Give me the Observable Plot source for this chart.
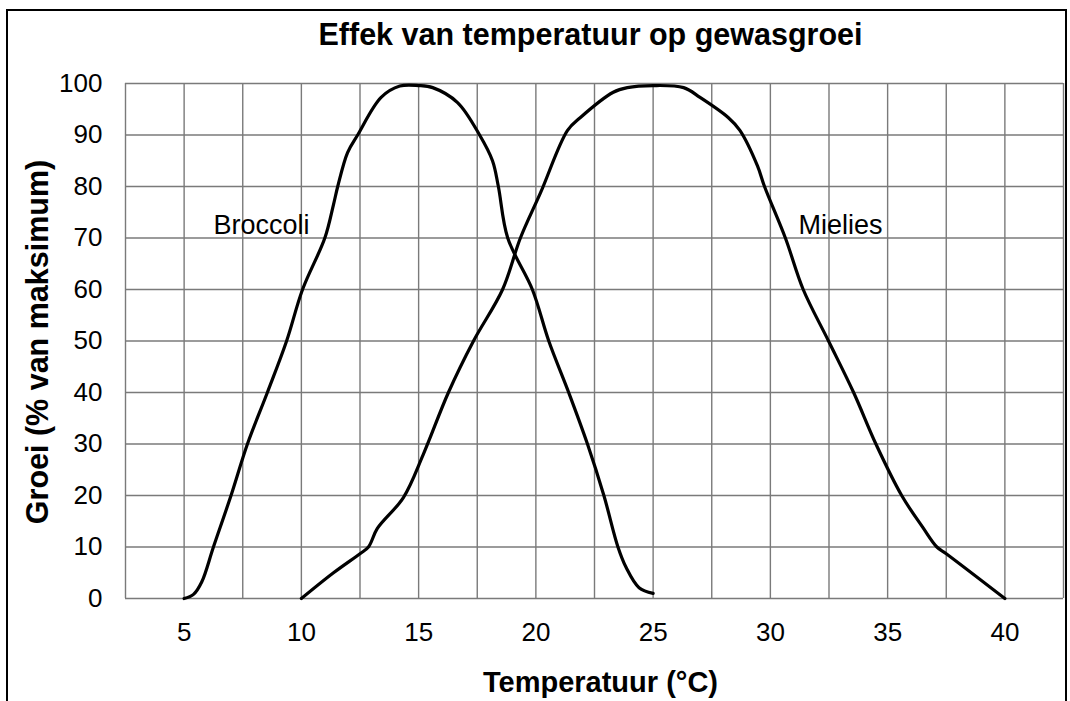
<!DOCTYPE html>
<html>
<head>
<meta charset="utf-8">
<script src="https://cdn.jsdelivr.net/npm/d3@7"></script>
<script src="https://cdn.jsdelivr.net/npm/@observablehq/plot@0.6"></script>
<style>
  html, body { margin: 0; padding: 0; background: #fff; }
  #wrap { position: relative; width: 1070px; height: 701px; overflow: hidden; }
  #border { position: absolute; left: 6px; top: 9px; width: 1061px; height: 710px; border: 2px solid #000; box-sizing: border-box; }
  #chart { position: absolute; left: 0; top: 0; }
</style>
</head>
<body>
<div id="wrap"><div id="border"></div><div id="chart"></div></div>
<script>
const chartTitle = "Effek van temperatuur op gewasgroei";
const xTitle = "Temperatuur (°C)";
const yTitle = "Groei (% van maksimum)";

const xTicks = [5, 10, 15, 20, 25, 30, 35, 40];
const xGrid = [2.5, 5, 7.5, 10, 12.5, 15, 17.5, 20, 22.5, 25, 27.5, 30, 32.5, 35, 37.5, 40, 42.5];
const yTicks = [0, 10, 20, 30, 40, 50, 60, 70, 80, 90, 100];

const broccoliTemp   = [5, 5.4, 5.75, 6.25, 7.0, 7.7, 8.55, 9.37, 10.05, 11.0, 11.37, 11.55, 11.97, 12.4, 13.4, 14.2, 15.0, 15.6, 16.66, 17.6, 18.15, 18.4, 18.8, 19.85, 20.55, 21.4, 22.2, 22.9, 23.5, 23.85, 24.4, 25];
const broccoliGrowth = [0, 0.8, 3.2, 10, 20, 30, 40, 50, 60, 70, 76.5, 80, 86.6, 90, 97.3, 99.5, 99.6, 99.2, 96.3, 90, 85, 80, 70, 60, 50, 40, 30, 20, 10, 6, 2.1, 1];

const mieliesTemp   = [10, 11.37, 12.5, 12.86, 13.24, 14.35, 15.2, 16.27, 17.34, 18.58, 19.34, 20.2, 21.35, 21.9, 23.3, 23.9, 25, 26.3, 27.0, 28.2, 28.7, 29.45, 29.75, 30.64, 31.4, 32.48, 33.55, 34.5, 35.6, 36.5, 37.1, 37.5, 40];
const mieliesGrowth = [0, 5, 8.7, 10, 13.6, 19.6, 28, 40, 50, 60, 70, 78.8, 90.9, 93.4, 98.3, 99.2, 99.6, 99.2, 97.3, 93.4, 90.9, 84, 80, 70, 60, 50, 40, 30, 20, 13.8, 10, 8.7, 0];

const labelNames = ["Broccoli", "Mielies"];
const labelTemp = [6.25, 31.2];
const labelGrowth = [72.5, 72.5];

const broccoli = broccoliTemp.map((t, i) => ({t, g: broccoliGrowth[i]}));
const mielies = mieliesTemp.map((t, i) => ({t, g: mieliesGrowth[i]}));
const labels = labelNames.map((name, i) => ({name, t: labelTemp[i], g: labelGrowth[i]}));

const font = "'Liberation Sans', Arial, Helvetica, sans-serif";
const gridColor = "#7a7a7a";

const chart = Plot.plot({
  width: 1070,
  height: 701,
  marginLeft: 125,
  marginRight: 7,
  marginTop: 83,
  marginBottom: 103,
  style: { fontFamily: font, fontSize: "26px", background: "transparent", color: "#000" },
  x: { domain: [2.5, 42.5] },
  y: { domain: [0, 100] },
  marks: [
    Plot.ruleX(xGrid, { stroke: gridColor, strokeWidth: 1.4 }),
    Plot.ruleY(yTicks, { stroke: gridColor, strokeWidth: 1.4 }),
    Plot.line(broccoli, { x: "t", y: "g", curve: "catmull-rom", stroke: "#000", strokeWidth: 3.2 }),
    Plot.line(mielies, { x: "t", y: "g", curve: "catmull-rom", stroke: "#000", strokeWidth: 3.2 }),
    Plot.text(labels, { x: "t", y: "g", text: "name", textAnchor: "start", fontSize: 27, fill: "#000" }),
    Plot.axisX({ ticks: xTicks, tickSize: 0, tickPadding: 24, label: null, fontSize: 26 }),
    Plot.axisY({ ticks: yTicks, tickSize: 0, tickPadding: 23, label: null, fontSize: 26 }),
    Plot.text([chartTitle], { frameAnchor: "top", textAnchor: "middle", lineAnchor: "middle", dy: -48, dx: -4, fontSize: 30.5, fontWeight: "bold", fill: "#000" }),
    Plot.text([xTitle], { frameAnchor: "bottom", textAnchor: "middle", lineAnchor: "middle", dy: 84, dx: 6, fontSize: 29, fontWeight: "bold", fill: "#000" }),
    Plot.text([yTitle], { frameAnchor: "left", textAnchor: "middle", lineAnchor: "middle", dx: -87, dy: 1, rotate: -90, fontSize: 30.5, fontWeight: "bold", fill: "#000" })
  ]
});
document.getElementById("chart").appendChild(chart);
</script>
</body>
</html>
